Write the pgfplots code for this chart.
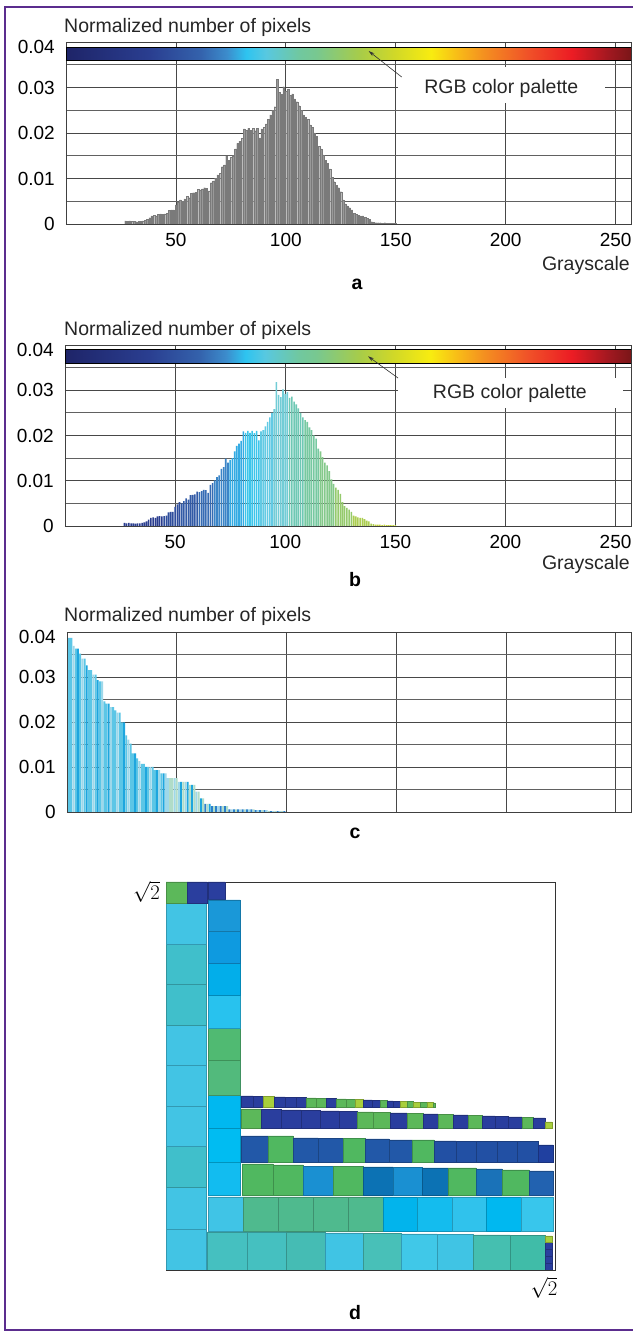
\documentclass[border=0pt]{standalone}
\usepackage{pgfplots}
\pgfplotsset{compat=1.18}
\usepackage{pgfplotstable}
\usetikzlibrary{arrows.meta}
\usepackage{fontspec}
\setmainfont{Liberation Sans}

\definecolor{frameP}{HTML}{5B2D8E}
% histogram b groups
\definecolor{hb1}{HTML}{293C8E}
\definecolor{hb2}{HTML}{2E4D9C}
\definecolor{hb3}{HTML}{325AA6}
\definecolor{hb4}{HTML}{366CB4}
\definecolor{hb5}{HTML}{3B85C7}
\definecolor{hb6}{HTML}{34ABE3}
\definecolor{hb7}{HTML}{3CC5EB}
\definecolor{hb8}{HTML}{62CAE4}
\definecolor{hb9}{HTML}{72CCD6}
\definecolor{hb10}{HTML}{6EC8B4}
\definecolor{hb11}{HTML}{76C8A0}
\definecolor{hb12}{HTML}{84C98A}
\definecolor{hb13}{HTML}{95CA6C}
\definecolor{hb14}{HTML}{ABCD50}
\definecolor{hb15}{HTML}{C5D53C}
% sorted c classes
\definecolor{cc1}{HTML}{5CC6E6}
\definecolor{cc2}{HTML}{1EA6DE}
\definecolor{cc3}{HTML}{9ED8EA}
\definecolor{cc4}{HTML}{B0DCC8}
\definecolor{cc5}{HTML}{2A80CC}
% blocks d
\definecolor{cyA}{HTML}{42C4E4}
\definecolor{cyT}{HTML}{40BFCB}
\definecolor{grR}{HTML}{5CB85A}
\definecolor{nv}{HTML}{2A3E9E}
\definecolor{yg}{HTML}{A8CF3C}
\definecolor{c2a}{HTML}{1A98D8}
\definecolor{c2b}{HTML}{0E9AE0}
\definecolor{c2c}{HTML}{02AEEA}
\definecolor{c2d}{HTML}{28C2EE}
\definecolor{grn}{HTML}{50BA72}
\definecolor{grn2}{HTML}{52BA7C}
\definecolor{cyB}{HTML}{00B8F0}
\definecolor{cyC}{HTML}{00BCF2}
\definecolor{cyD}{HTML}{12BCF0}
\definecolor{cyE}{HTML}{40C4E6}
\definecolor{gT}{HTML}{4FBA8E}
\definecolor{bC}{HTML}{02B4EC}
\definecolor{bC2}{HTML}{14BCEE}
\definecolor{bC3}{HTML}{30C2EC}
\definecolor{bC4}{HTML}{00B8F0}
\definecolor{bC5}{HTML}{38C6EC}
\definecolor{tA}{HTML}{45C0C0}
\definecolor{tB}{HTML}{45BCB4}
\definecolor{cyF}{HTML}{40C4E4}
\definecolor{tC}{HTML}{48C0B8}
\definecolor{cyG}{HTML}{40C8E8}
\definecolor{tD}{HTML}{45BFB0}
\definecolor{tE}{HTML}{40BCA8}
\definecolor{gR}{HTML}{50B860}
\definecolor{mB}{HTML}{1A90D2}
\definecolor{dBb}{HTML}{0C72B4}
\definecolor{dBc}{HTML}{1A72B8}
\definecolor{dBd}{HTML}{2262B0}
\definecolor{bRa}{HTML}{2258A8}
\definecolor{bRb}{HTML}{2250A4}
\definecolor{bRc}{HTML}{2040A0}

\pgfplotstableread{
g v
27 0.0007
28 0.0006
29 0.0007
30 0.0006
31 0.0006
32 0.0005
33 0.0006
34 0.0006
35 0.0007
36 0.0008
37 0.0010
38 0.0014
39 0.0018
40 0.0019
41 0.0018
42 0.0021
43 0.0022
44 0.0021
45 0.0022
46 0.0023
47 0.0030
48 0.0031
49 0.0031
50 0.0042
51 0.0048
52 0.0053
53 0.0050
54 0.0055
55 0.0061
56 0.0058
57 0.0068
58 0.0069
59 0.0070
60 0.0076
61 0.0075
62 0.0077
63 0.0080
64 0.0079
65 0.0073
66 0.0091
67 0.0095
68 0.0101
69 0.0108
70 0.0112
71 0.0126
72 0.0130
73 0.0149
74 0.0140
75 0.0146
76 0.0150
77 0.0165
78 0.0177
79 0.0182
80 0.0188
81 0.0209
82 0.0206
83 0.0210
84 0.0206
85 0.0210
86 0.0205
87 0.0210
88 0.0189
89 0.0209
90 0.0212
91 0.0220
92 0.0230
93 0.0240
94 0.0250
95 0.0258
96 0.0318
97 0.0290
98 0.0285
99 0.0302
100 0.0292
101 0.0296
102 0.0283
103 0.0286
104 0.0275
105 0.0269
106 0.0260
107 0.0250
108 0.0240
109 0.0234
110 0.0230
111 0.0218
112 0.0212
113 0.0200
114 0.0193
115 0.0171
116 0.0165
117 0.0152
118 0.0140
119 0.0134
120 0.0121
121 0.0103
122 0.0093
123 0.0085
124 0.0080
125 0.0071
126 0.0053
127 0.0044
128 0.0040
129 0.0036
130 0.0031
131 0.0023
132 0.0021
133 0.0019
134 0.0018
135 0.0018
136 0.0015
137 0.0012
138 0.0010
139 0.0005
140 0.0004
141 0.0003
142 0.0003
143 0.0003
144 0.0002
145 0.0003
146 0.0002
147 0.0002
148 0.0002
149 0.0002
150 0.0002
}\histdata

\pgfplotstableread{
x v k
1 0.0387 1
2 0.0387 1
3 0.0369 3
4 0.0363 1
5 0.0363 2
6 0.0352 1
7 0.0341 3
8 0.0341 1
9 0.0326 2
10 0.0315 1
11 0.0315 1
12 0.0305 3
13 0.0305 1
14 0.0293 2
15 0.0290 1
16 0.0290 3
17 0.0246 1
18 0.0241 1
19 0.0241 2
20 0.0233 3
21 0.0233 1
22 0.0226 1
23 0.0221 3
24 0.0221 1
25 0.0199 1
26 0.0199 2
27 0.0170 1
28 0.0161 3
29 0.0152 1
30 0.0130 1
31 0.0130 2
32 0.0119 1
33 0.0113 3
34 0.0107 1
35 0.0107 1
36 0.0100 2
37 0.0100 1
38 0.0100 3
39 0.0100 1
40 0.0093 1
41 0.0093 2
42 0.0093 3
43 0.0086 1
44 0.0086 2
45 0.0086 3
46 0.0075 3
47 0.0075 4
48 0.0075 4
49 0.0075 3
50 0.0075 4
51 0.0067 3
52 0.0067 2
53 0.0067 4
54 0.0067 3
55 0.0067 2
56 0.0060 4
57 0.0060 2
58 0.0060 4
59 0.0045 3
60 0.0045 4
61 0.0030 2
62 0.0030 4
63 0.0018 5
64 0.0018 4
65 0.0018 2
66 0.0013 5
67 0.0013 4
68 0.0013 5
69 0.0013 3
70 0.0013 5
71 0.0013 4
72 0.0013 5
73 0.0013 4
74 0.0006 5
75 0.0006 3
76 0.0006 5
77 0.0006 4
78 0.0006 5
79 0.0006 3
80 0.0006 5
81 0.0006 4
82 0.0006 5
83 0.0006 3
84 0.0006 5
85 0.0006 4
86 0.0004 5
87 0.0004 3
88 0.0004 5
89 0.0004 4
90 0.0004 5
91 0.0004 3
92 0.0002 4
93 0.0002 5
94 0.0002 3
95 0.0002 4
96 0.0002 5
97 0.0002 3
98 0.0002 4
99 0.0002 5
}\sortdata

\pgfplotsset{
  colormap={rgbpal}{rgb255(0pt)=(30,36,104); rgb255(38pt)=(42,62,144); rgb255(61pt)=(52,98,172); rgb255(73pt)=(60,140,204); rgb255(82pt)=(46,196,240); rgb255(91pt)=(88,200,224); rgb255(106pt)=(112,200,160); rgb255(114pt)=(120,200,144); rgb255(134pt)=(168,204,72); rgb255(149pt)=(208,216,40); rgb255(166pt)=(248,236,16); rgb255(179pt)=(248,184,24); rgb255(190pt)=(244,144,32); rgb255(210pt)=(240,82,40); rgb255(230pt)=(236,28,36); rgb255(247pt)=(160,24,32); rgb255(257pt)=(122,22,24)},
  hist/.style={
    scale only axis, anchor=south west,
    xmin=0, xmax=257, ymin=0, ymax=0.04,
    scaled y ticks=false, scaled x ticks=false,
    xtick={50,100,150,200,250}, xticklabels={50,100,150,200,250},
    ytick={0,0.01,0.02,0.03,0.04},
    yticklabels={0,0.01,0.02,0.03,\smash{\raisebox{-11.5pt}{0.04}}},
    minor ytick={0.005,0.015,0.025,0.035},
    grid=both,
    major grid style={black!72, line width=0.8pt},
    minor grid style={black!62, line width=0.8pt},
    major tick length=0pt, minor tick length=0pt,
    axis line style={black!75, line width=0.8pt},
    /pgf/number format/assume math mode=true,
    tick label style={font=\fontsize{19}{22}\selectfont},
    yticklabel style={inner sep=0pt, anchor=east, xshift=-11pt},
    xticklabel style={inner sep=0pt, anchor=north, yshift=-9.5pt},
    colormap name=rgbpal, point meta min=0, point meta max=257,
  },
  hbar/.style={ybar, bar width=0.72, bar shift=0pt, draw=none, forget plot},
}

\newcommand{\blk}[5]{\addplot[forget plot, fill=#5, draw=#5!78!black, line width=0.5pt] coordinates {(#1,#2) (#3,#2) (#3,#4) (#1,#4) (#1,#2)};}
\newcommand{\lab}{\fontsize{19.5}{23}\selectfont}

\begin{document}
\begin{tikzpicture}
\useasboundingbox (0,0) rectangle (632pt,1333pt);
\fill[white] (0,0) rectangle (632pt,1333pt);
\draw[frameP, line width=2.2pt] (700pt,1326pt) -- (5pt,1326pt) -- (5pt,3pt) -- (700pt,3pt);

% ---------- panel a ----------
\begin{axis}[hist, at={(66pt,1109pt)}, width=565pt, height=182pt]
\addplot[ybar, bar width=0.7, bar shift=0pt, fill=black!40, draw=black!52, line width=0.15pt, forget plot] table[x=g,y=v] {\histdata};
\addplot[surf, shader=interp, point meta=x, mesh/rows=2, mesh/cols=17, forget plot] coordinates {
(0,0.0360) (16,0.0360) (32,0.0360) (48,0.0360) (64,0.0360) (80,0.0360) (96,0.0360) (112,0.0360) (128,0.0360) (144,0.0360) (160,0.0360) (176,0.0360) (192,0.0360) (208,0.0360) (224,0.0360) (240,0.0360) (257,0.0360)
(0,0.0389) (16,0.0389) (32,0.0389) (48,0.0389) (64,0.0389) (80,0.0389) (96,0.0389) (112,0.0389) (128,0.0389) (144,0.0389) (160,0.0389) (176,0.0389) (192,0.0389) (208,0.0389) (224,0.0389) (240,0.0389) (257,0.0389)};
\addplot[black, line width=0.8pt, forget plot] coordinates {(0,0.0360) (257,0.0360) (257,0.0389) (0,0.0389) (0,0.0360)};
\fill[white] (axis cs:151,0.0266) rectangle (axis cs:245,0.0345);
\node[font=\lab, text=black!85] at (axis cs:198,0.0297) {RGB color palette};
\draw[-{Stealth[length=6pt,width=3.5pt]}, line width=0.6pt, black!80] (axis cs:152.7,0.0323) -- (axis cs:137.7,0.0380);
\end{axis}
\node[anchor=base west, font=\lab, inner sep=0pt, text=black!85] at (64pt,1300pt) {Normalized number of pixels};
\node[anchor=base east, font=\lab, inner sep=0pt, text=black!85] at (630pt,1062pt) {Grayscale};
\node[anchor=base, font=\lab\bfseries, inner sep=0pt] at (357pt,1043pt) {a};

% ---------- panel b ----------
\begin{axis}[hist, at={(65pt,807pt)}, width=566pt, height=181pt]
\addplot[hbar, fill=hb1, restrict x to domain=26.5:44.5] table[x=g,y=v] {\histdata};
\addplot[hbar, fill=hb2, restrict x to domain=44.5:52.5] table[x=g,y=v] {\histdata};
\addplot[hbar, fill=hb3, restrict x to domain=52.5:60.5] table[x=g,y=v] {\histdata};
\addplot[hbar, fill=hb4, restrict x to domain=60.5:67.5] table[x=g,y=v] {\histdata};
\addplot[hbar, fill=hb5, restrict x to domain=67.5:74.5] table[x=g,y=v] {\histdata};
\addplot[hbar, fill=hb6, restrict x to domain=74.5:81.5] table[x=g,y=v] {\histdata};
\addplot[hbar, fill=hb7, restrict x to domain=81.5:88.5] table[x=g,y=v] {\histdata};
\addplot[hbar, fill=hb8, restrict x to domain=88.5:94.5] table[x=g,y=v] {\histdata};
\addplot[hbar, fill=hb9, restrict x to domain=94.5:101.5] table[x=g,y=v] {\histdata};
\addplot[hbar, fill=hb10, restrict x to domain=101.5:108.5] table[x=g,y=v] {\histdata};
\addplot[hbar, fill=hb11, restrict x to domain=108.5:115.5] table[x=g,y=v] {\histdata};
\addplot[hbar, fill=hb12, restrict x to domain=115.5:122.5] table[x=g,y=v] {\histdata};
\addplot[hbar, fill=hb13, restrict x to domain=122.5:130.5] table[x=g,y=v] {\histdata};
\addplot[hbar, fill=hb14, restrict x to domain=130.5:140.5] table[x=g,y=v] {\histdata};
\addplot[hbar, fill=hb15, restrict x to domain=140.5:150.5] table[x=g,y=v] {\histdata};
\addplot[surf, shader=interp, point meta=x, mesh/rows=2, mesh/cols=17, forget plot] coordinates {
(0,0.0360) (16,0.0360) (32,0.0360) (48,0.0360) (64,0.0360) (80,0.0360) (96,0.0360) (112,0.0360) (128,0.0360) (144,0.0360) (160,0.0360) (176,0.0360) (192,0.0360) (208,0.0360) (224,0.0360) (240,0.0360) (257,0.0360)
(0,0.0391) (16,0.0391) (32,0.0391) (48,0.0391) (64,0.0391) (80,0.0391) (96,0.0391) (112,0.0391) (128,0.0391) (144,0.0391) (160,0.0391) (176,0.0391) (192,0.0391) (208,0.0391) (224,0.0391) (240,0.0391) (257,0.0391)};
\addplot[black, line width=0.8pt, forget plot] coordinates {(0,0.0360) (257,0.0360) (257,0.0391) (0,0.0391) (0,0.0360)};
\fill[white] (axis cs:151.2,0.0261) rectangle (axis cs:253.4,0.0327);
\node[font=\lab, text=black!85] at (axis cs:202,0.0292) {RGB color palette};
\draw[-{Stealth[length=6pt,width=3.5pt]}, line width=0.6pt, black!80] (axis cs:151.2,0.0327) -- (axis cs:137.6,0.0375);
\end{axis}
\node[anchor=base west, font=\lab, inner sep=0pt, text=black!85] at (64pt,997pt) {Normalized number of pixels};
\node[anchor=base east, font=\lab, inner sep=0pt, text=black!85] at (630pt,763pt) {Grayscale};
\node[anchor=base, font=\lab\bfseries, inner sep=0pt] at (355pt,746pt) {b};

% ---------- panel c ----------
\begin{axis}[hist, at={(67pt,521pt)}, width=564pt, height=180pt, xticklabels={}]
\addplot[ybar, bar width=0.9, bar shift=0pt, draw=none, fill=cc1, forget plot, restrict expr to domain={\thisrow{k}}{1:1}] table[x=x,y=v] {\sortdata};
\addplot[ybar, bar width=0.9, bar shift=0pt, draw=none, fill=cc2, forget plot, restrict expr to domain={\thisrow{k}}{2:2}] table[x=x,y=v] {\sortdata};
\addplot[ybar, bar width=0.9, bar shift=0pt, draw=none, fill=cc3, forget plot, restrict expr to domain={\thisrow{k}}{3:3}] table[x=x,y=v] {\sortdata};
\addplot[ybar, bar width=0.9, bar shift=0pt, draw=none, fill=cc4, forget plot, restrict expr to domain={\thisrow{k}}{4:4}] table[x=x,y=v] {\sortdata};
\addplot[ybar, bar width=0.9, bar shift=0pt, draw=none, fill=cc5, forget plot, restrict expr to domain={\thisrow{k}}{5:5}] table[x=x,y=v] {\sortdata};
\end{axis}
\node[anchor=base west, font=\lab, inner sep=0pt, text=black!85] at (64pt,711pt) {Normalized number of pixels};
\node[anchor=base, font=\lab\bfseries, inner sep=0pt] at (355pt,494pt) {c};

% ---------- panel d ----------
\begin{axis}[at={(166pt,63pt)}, anchor=south west, scale only axis, width=389pt, height=388pt,
  xmin=0, xmax=389, ymin=0, ymax=388,
  xtick={378}, ytick={378}, xticklabels={$\sqrt{2}$}, yticklabels={$\sqrt{2}$},
  major tick length=0pt,
  axis line style={black!80, line width=0.8pt},
  tick label style={font=\fontsize{20}{24}\selectfont},
  xticklabel style={inner sep=0pt, anchor=north, yshift=-7pt},
  yticklabel style={inner sep=0pt, anchor=east, xshift=-6pt}]
% column 1
\blk{0}{0}{40}{41}{cyA}
\blk{0}{41}{40}{83}{cyA}
\blk{0}{83}{40}{124}{cyT}
\blk{0}{124}{40}{164}{cyA}
\blk{0}{164}{40}{205}{cyA}
\blk{0}{205}{40}{245}{cyA}
\blk{0}{245}{40}{286}{cyT}
\blk{0}{286}{40}{326}{cyT}
\blk{0}{326}{40}{367}{cyA}
\blk{0}{367}{21}{388}{grR}
\blk{21}{367}{41}{388}{nv}
\blk{42}{371}{59}{388}{nv}
% column 2
\blk{42}{75}{74}{108}{cyD}
\blk{42}{108}{74}{142}{cyC}
\blk{42}{142}{74}{175}{cyB}
\blk{42}{175}{74}{210}{grn2}
\blk{42}{210}{74}{242}{grn}
\blk{42}{242}{74}{275}{c2d}
\blk{42}{275}{74}{307}{c2c}
\blk{42}{307}{74}{339}{c2b}
\blk{42}{339}{74}{370}{c2a}
% row 2
\blk{42}{39}{77}{73}{cyE}
\blk{77}{39}{112}{73}{gT}
\blk{112}{39}{147}{73}{gT}
\blk{147}{39}{182}{73}{gT}
\blk{182}{39}{217}{73}{gT}
\blk{217}{39}{251}{73}{bC}
\blk{251}{39}{286}{73}{bC2}
\blk{286}{39}{320}{73}{bC3}
\blk{320}{39}{355}{73}{bC4}
\blk{355}{39}{387}{73}{bC5}
% row 1
\blk{41}{0}{81}{38}{tA}
\blk{81}{0}{120}{38}{tA}
\blk{120}{0}{159}{37.5}{tB}
\blk{159}{0}{197}{37}{cyF}
\blk{197}{0}{235}{36.5}{tC}
\blk{235}{0}{271}{36}{cyG}
\blk{271}{0}{307}{35.5}{cyF}
\blk{307}{0}{344}{35}{tD}
\blk{344}{0}{379}{34.5}{tE}
\blk{379}{0}{386}{7}{nv}
\blk{379}{7}{386}{14}{nv}
\blk{379}{14}{386}{21}{nv}
\blk{379}{21}{386}{28}{nv}
\blk{379}{28}{386}{34}{yg}
% row 3
\blk{76}{75}{107}{106}{gR}
\blk{107}{75}{137}{105}{gR}
\blk{137}{75}{167}{103.5}{mB}
\blk{167}{75}{197}{103.5}{gR}
\blk{197}{75}{227}{103}{dBb}
\blk{227}{75}{256}{102.5}{mB}
\blk{256}{75}{282}{102}{dBb}
\blk{282}{75}{310}{102}{gR}
\blk{310}{75}{336}{101}{dBc}
\blk{336}{75}{363}{100}{gR}
\blk{363}{75}{387}{99}{dBd}
% row 4
\blk{75}{108}{102}{134}{bRa}
\blk{102}{108}{127}{134}{gR}
\blk{127}{108}{152}{132}{bRa}
\blk{152}{108}{177}{131.3}{bRa}
\blk{177}{108}{199}{131.3}{gR}
\blk{199}{108}{223}{131}{bRa}
\blk{223}{108}{246}{130}{bRa}
\blk{246}{108}{268}{130}{gR}
\blk{268}{108}{290}{129}{bRb}
\blk{290}{108}{310}{128.3}{bRb}
\blk{310}{108}{331}{128.3}{bRb}
\blk{331}{108}{351}{128.3}{bRb}
\blk{351}{108}{372}{128.3}{bRb}
\blk{372}{108}{387}{125}{bRc}
% row 5
\blk{75}{142}{95}{161}{grR}
\blk{95}{142}{115}{160.5}{nv}
\blk{115}{142}{135}{160}{nv}
\blk{135}{142}{154}{159.5}{nv}
\blk{154}{142}{173}{159}{nv}
\blk{173}{142}{191}{158.5}{nv}
\blk{191}{142}{207}{158}{grR}
\blk{207}{142}{224}{157.5}{grR}
\blk{224}{142}{241}{157}{nv}
\blk{241}{142}{257}{156.5}{grR}
\blk{257}{142}{272}{156}{nv}
\blk{272}{142}{287}{155.5}{grR}
\blk{287}{142}{302}{155}{nv}
\blk{302}{142}{316}{154.5}{grR}
\blk{316}{142}{329}{154}{nv}
\blk{329}{142}{342}{153.5}{nv}
\blk{342}{142}{356}{153}{nv}
\blk{356}{142}{367}{152.5}{grR}
\blk{367}{142}{379}{152}{nv}
\blk{379}{142}{386}{148}{yg}
% row 6
\blk{75}{162.5}{87}{174}{nv}
\blk{87}{162.5}{97}{173.7}{nv}
\blk{97}{162.5}{108}{173.4}{yg}
\blk{108}{162.5}{119}{173}{nv}
\blk{119}{162.5}{130}{172.7}{nv}
\blk{130}{162.5}{140}{172.4}{nv}
\blk{140}{162.5}{150}{172.1}{grR}
\blk{150}{162.5}{160}{171.8}{grR}
\blk{160}{162.5}{170}{171.5}{nv}
\blk{170}{162.5}{180}{171.1}{grR}
\blk{180}{162.5}{189}{170.8}{grR}
\blk{189}{162.5}{197}{170.5}{yg}
\blk{197}{162.5}{206}{170.2}{nv}
\blk{206}{162.5}{214}{169.9}{nv}
\blk{214}{162.5}{221}{169.5}{grR}
\blk{221}{162.5}{227}{169.2}{nv}
\blk{227}{162.5}{234}{168.9}{nv}
\blk{234}{162.5}{241}{168.6}{yg}
\blk{241}{162.5}{247}{168.3}{grR}
\blk{247}{162.5}{254}{167.9}{yg}
\blk{254}{162.5}{261}{167.6}{grR}
\blk{261}{162.5}{267}{167.3}{yg}
\blk{267}{162.5}{269}{167}{grR}
\end{axis}
\node[anchor=base, font=\lab\bfseries, inner sep=0pt] at (355pt,13pt) {d};
\end{tikzpicture}
\end{document}
